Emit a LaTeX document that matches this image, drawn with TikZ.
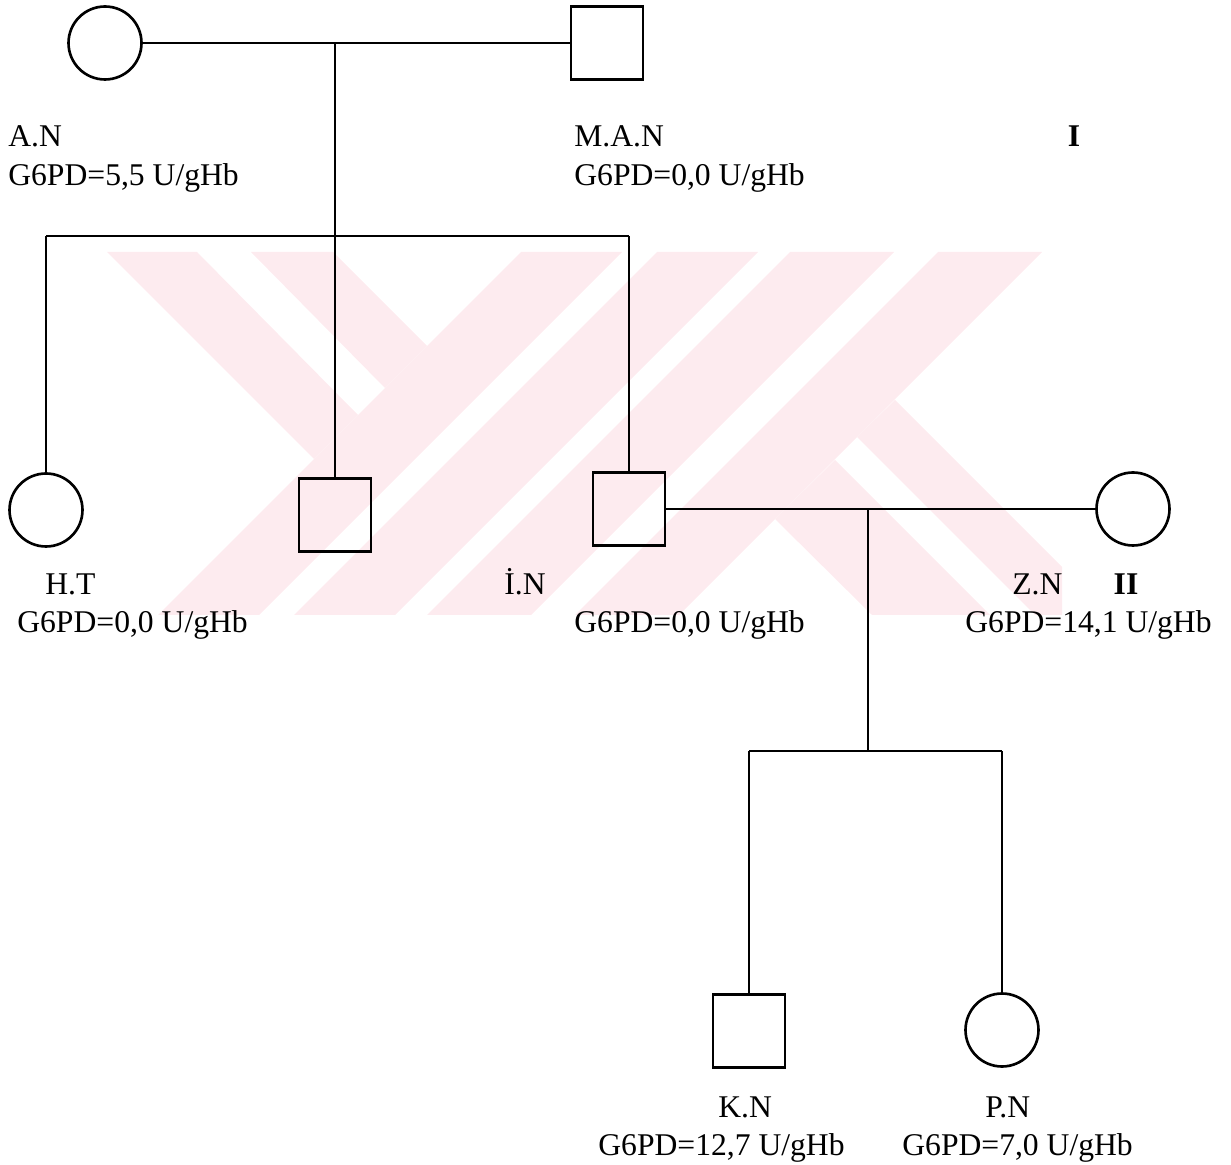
\documentclass[tikz,border=0pt]{standalone}
\usepackage{fontspec}
\setmainfont{Liberation Serif}
\usepackage{xcolor}
\definecolor{wmpink}{RGB}{253,235,239}

\begin{document}
\begin{tikzpicture}[x=0.02cm,y=-0.02cm,
  female/.style={draw,circle,line width=1.5pt,minimum size=1.46cm,inner sep=0pt},
  male/.style={draw,rectangle,line width=1.5pt,minimum width=1.44cm,minimum height=1.47cm,inner sep=0pt},
  link/.style={line width=1.5pt},
  lbl/.style={anchor=base west,inner sep=0pt,font=\fontsize{18}{21}\selectfont},
  genno/.style={anchor=base,inner sep=0pt,font=\fontsize{18}{21}\selectfont\bfseries}]
  \useasboundingbox (0,0) rectangle (1231,1165);
  % watermark in the back
  \begin{scope}
    \clip (107,252) rectangle (1062,615);
    \fill[wmpink] (107,252) -- (197,252) -- (358,415) -- (314,459) -- cycle;
    \fill[wmpink] (251,252) -- (333,252) -- (427,346) -- (385,388) -- cycle;
    \fill[wmpink] (521,252) -- (622,252) -- (259,615) -- (158,615) -- cycle;
    \fill[wmpink] (657,252) -- (758,252) -- (395,615) -- (294,615) -- cycle;
    \fill[wmpink] (790,252) -- (894,252) -- (531,615) -- (427,615) -- cycle;
    \fill[wmpink] (938,252) -- (1042,252) -- (679,615) -- (575,615) -- cycle;
    \fill[wmpink] (775,519) -- (835,460) -- (990,615) -- (872,615) -- cycle;
    \fill[wmpink] (857,437) -- (895,400) -- (1110,615) -- (1035,615) -- cycle;
  \end{scope}
  % generation I
  \node[female] (an) at (105,43) {};
  \node[male] (man) at (607,43) {};
  \coordinate (m1) at (335,43);
  \draw[link] (an) -- (m1) -- (man);
  % generation II
  \node[female] (ht) at (46,510) {};
  \node[male] (son) at (335,515) {};
  \node[male] (in) at (629,509) {};
  \node[female] (zn) at (1133,509) {};
  \coordinate (s1l) at (46,236);
  \coordinate (s1r) at (629,236);
  \draw[link] (s1l) -- (s1r);
  \draw[link] (m1) -- (son);
  \draw[link] (s1l) -- (ht);
  \draw[link] (s1r) -- (in);
  \coordinate (m2) at (868,509);
  \draw[link] (in) -- (m2) -- (zn);
  % generation III
  \node[male] (kn) at (749,1031) {};
  \node[female] (pn) at (1002,1030) {};
  \coordinate (s2m) at (868,751);
  \coordinate (s2l) at (749,751);
  \coordinate (s2r) at (1002,751);
  \draw[link] (m2) -- (s2m);
  \draw[link] (s2l) -- (s2r);
  \draw[link] (s2l) -- (kn);
  \draw[link] (s2r) -- (pn);
  % labels
  \node[lbl] (anname) at (8,147) {A.N};
  \node[lbl] (anval) at (8,186) {G6PD=5,5 U/gHb};
  \node[lbl] (manname) at (574,147) {M.A.N};
  \node[lbl] (manval) at (574,186) {G6PD=0,0 U/gHb};
  \node[genno] (g1) at (1074,147) {I};
  \node[lbl] (htname) at (45,595) {H.T};
  \node[lbl] (htval) at (17,633) {G6PD=0,0 U/gHb};
  \node[lbl] (inname) at (504,595) {İ.N};
  \node[lbl] (inval) at (574,633) {G6PD=0,0 U/gHb};
  \node[lbl] (znname) at (1012,595) {Z.N};
  \node[genno] (g2) at (1126,595) {II};
  \node[lbl] (znval) at (965,633) {G6PD=14,1 U/gHb};
  \node[lbl] (knname) at (718,1117) {K.N};
  \node[lbl] (knval) at (598,1155) {G6PD=12,7 U/gHb};
  \node[lbl] (pnname) at (985,1117) {P.N};
  \node[lbl] (pnval) at (902,1155) {G6PD=7,0 U/gHb};
\end{tikzpicture}
\end{document}
